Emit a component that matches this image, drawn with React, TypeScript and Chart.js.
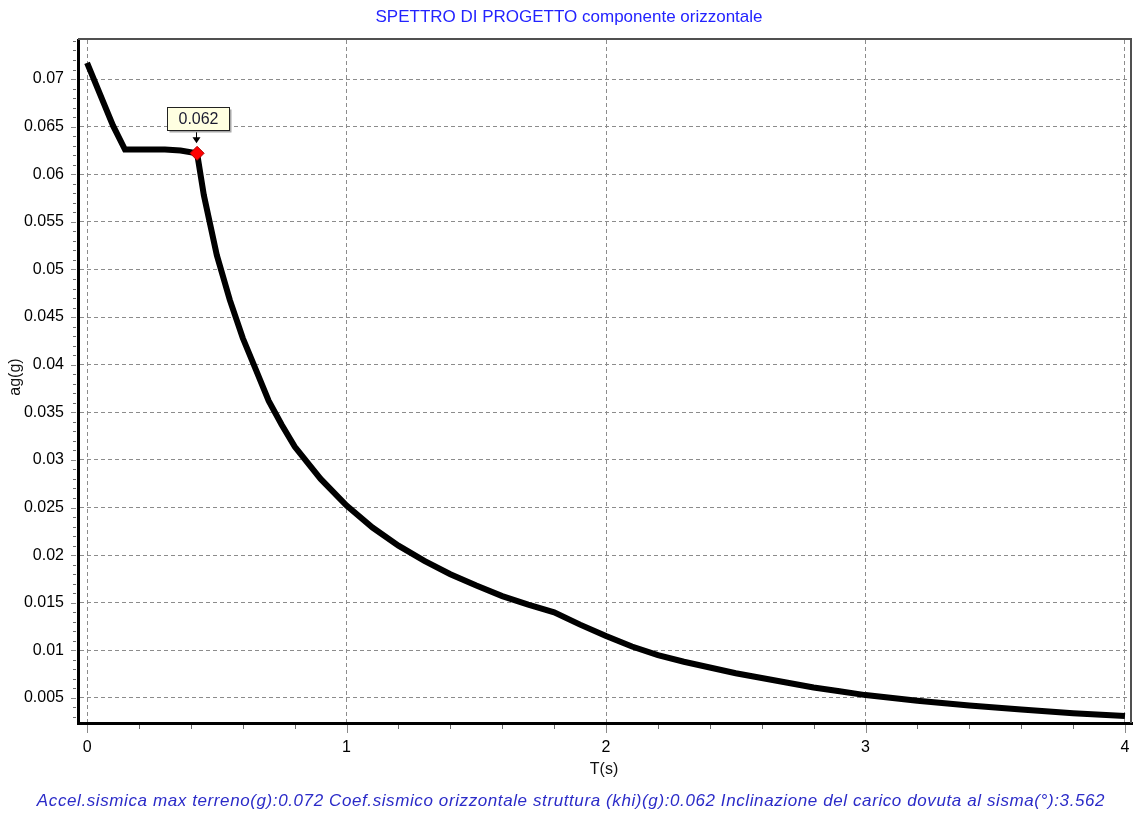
import React, { useEffect, useRef } from "react";
import { Chart, registerables } from "chart.js";

Chart.register(...registerables);

const TITLE = "SPETTRO DI PROGETTO componente orizzontale";
const FOOTER =
  "Accel.sismica max terreno(g):0.072 Coef.sismico orizzontale struttura (khi)(g):0.062 Inclinazione del carico dovuta al sisma(°):3.562";
const X_TITLE = "T(s)";
const Y_TITLE = "ag(g)";

const periods = [
  0, 0.1, 0.146, 0.2, 0.3, 0.36, 0.424, 0.45, 0.5, 0.55, 0.6, 0.65, 0.7, 0.75,
  0.8, 0.9, 1.0, 1.1, 1.2, 1.3, 1.4, 1.5, 1.6, 1.7, 1.8, 1.9, 2.0, 2.1, 2.2,
  2.3, 2.4, 2.5, 2.6, 2.7, 2.8, 2.9, 3.0, 3.2, 3.4, 3.6, 3.8, 4.0,
];
const accel = [
  0.0717, 0.0651, 0.0626, 0.0626, 0.0626, 0.0625, 0.0622, 0.0578, 0.0515,
  0.0468, 0.0428, 0.0395, 0.0362, 0.0337, 0.0314, 0.028, 0.0252, 0.0229,
  0.021, 0.0194, 0.018, 0.0168, 0.0157, 0.0148, 0.014, 0.0127, 0.0115, 0.0104,
  0.0095, 0.0088, 0.0082, 0.0076, 0.0071, 0.0066, 0.0061, 0.0057, 0.0053,
  0.0047, 0.0042, 0.0038, 0.0034, 0.0031,
];

const markerT = [0.424];
const markerV = [0.0622];
const MARKER_LABEL = "0.062";

const X_MIN = -0.035;
const X_MAX = 4.027;
const X_STEP = 0.2;
const Y_MIN = 0.00237;
const Y_MAX = 0.0741;
const Y_STEP = 0.001;
const Y_MAJOR = 0.005;

const FONT = '"Liberation Sans", Arial, sans-serif';

const isMult = (v: number, m: number) =>
  Math.abs(v / m - Math.round(v / m)) < 1e-6;

const decorPlugin = {
  id: "decor",
  afterDraw(chart: any) {
    const { ctx, chartArea } = chart;
    const { left, right, top, bottom } = chartArea;
    const xs = chart.scales.x;
    const ys = chart.scales.y;
    ctx.save();

    // frame top/right
    ctx.strokeStyle = "#505050";
    ctx.lineWidth = 2;
    ctx.beginPath();
    ctx.moveTo(left, top - 1);
    ctx.lineTo(right, top - 1);
    ctx.moveTo(right - 1, top - 1);
    ctx.lineTo(right - 1, bottom);
    ctx.stroke();

    // x ticks
    ctx.lineWidth = 1;
    for (const t of xs.ticks) {
      const px = Math.round(xs.getPixelForValue(t.value)) + 0.5;
      const major = isMult(t.value, 1);
      ctx.strokeStyle = major ? "#8a8a8a" : "#6a6a6a";
      ctx.beginPath();
      ctx.moveTo(px, bottom + 2);
      ctx.lineTo(px, bottom + (major ? 10 : 6));
      ctx.stroke();
    }
    // y ticks
    for (const t of ys.ticks) {
      const py = Math.round(ys.getPixelForValue(t.value)) + 0.5;
      const major = isMult(t.value, Y_MAJOR);
      ctx.strokeStyle = major ? "#8a8a8a" : "#6a6a6a";
      ctx.beginPath();
      ctx.moveTo(left - 2, py);
      ctx.lineTo(left - (major ? 7 : 5), py);
      ctx.stroke();
    }

    // title
    ctx.fillStyle = "#2323ff";
    ctx.font = `17px ${FONT}`;
    ctx.textAlign = "center";
    ctx.textBaseline = "middle";
    ctx.fillText(TITLE, 569, 17);

    // footer
    ctx.fillStyle = "#2b2bc8";
    ctx.font = `italic 17px ${FONT}`;
    try {
      (ctx as any).letterSpacing = "0.6px";
    } catch (e) {}
    ctx.fillText(FOOTER, 571, 801);
    try {
      (ctx as any).letterSpacing = "0px";
    } catch (e) {}

    // axis titles
    ctx.fillStyle = "#111";
    ctx.font = `16px ${FONT}`;
    ctx.fillText(X_TITLE, 604, 770);
    ctx.save();
    ctx.translate(16, 377);
    ctx.rotate(-Math.PI / 2);
    ctx.fillText(Y_TITLE, 0, 0);
    ctx.restore();

    // annotation callout
    const mx = xs.getPixelForValue(markerT[0]);
    const my = ys.getPixelForValue(markerV[0]);
    const bw = 62;
    const bh = 23;
    const bx = Math.round(mx - 30) + 0.5;
    const by = Math.round(my - 46) + 0.5;
    ctx.fillStyle = "#a8a8a8";
    ctx.fillRect(bx + 2, by + 2, bw, bh);
    ctx.fillStyle = "#ffffe1";
    ctx.fillRect(bx, by, bw, bh);
    ctx.strokeStyle = "#222";
    ctx.lineWidth = 1;
    ctx.strokeRect(bx, by, bw, bh);
    ctx.fillStyle = "#1a1a30";
    ctx.font = `16px ${FONT}`;
    ctx.textAlign = "center";
    ctx.textBaseline = "middle";
    ctx.fillText(MARKER_LABEL, bx + bw / 2, by + bh / 2 + 1);
    // arrow
    const ax = Math.round(mx - 1) + 0.5;
    ctx.strokeStyle = "#000";
    ctx.beginPath();
    ctx.moveTo(ax, my - 21);
    ctx.lineTo(ax, my - 15);
    ctx.stroke();
    ctx.fillStyle = "#000";
    ctx.beginPath();
    ctx.moveTo(ax - 4, my - 16);
    ctx.lineTo(ax + 4, my - 16);
    ctx.lineTo(ax, my - 10);
    ctx.closePath();
    ctx.fill();

    ctx.restore();
  },
};

export default function App() {
  const canvasRef = useRef<HTMLCanvasElement | null>(null);

  useEffect(() => {
    const canvas = canvasRef.current;
    if (!canvas) return;
    const chart = new Chart(canvas, {
      type: "line",
      data: {
        datasets: [
          {
            data: markerT.map((t, i) => ({ x: t, y: markerV[i] })),
            showLine: false,
            pointStyle: "rectRot",
            pointRadius: 7,
            pointBackgroundColor: "#ff0000",
            pointBorderColor: "#b00000",
            pointBorderWidth: 1,
            order: 0,
          },
          {
            data: periods.map((t, i) => ({ x: t, y: accel[i] })),
            borderColor: "#000000",
            borderWidth: 6,
            pointRadius: 0,
            tension: 0,
            fill: false,
            order: 1,
          },
        ],
      },
      options: {
        animation: false,
        responsive: false,
        devicePixelRatio: 1,
        layout: {
          autoPadding: false,
          padding: { top: 40, right: 1, left: 0, bottom: 0 },
        },
        plugins: {
          legend: { display: false },
          tooltip: { enabled: false },
          title: { display: false },
        },
        scales: {
          x: {
            type: "linear",
            min: X_MIN,
            max: X_MAX,
            afterFit: (s: any) => {
              s.height = 90;
              s.paddingLeft = 0;
              s.paddingRight = 0;
            },
            ticks: {
              stepSize: X_STEP,
              includeBounds: false,
              autoSkip: false,
              maxRotation: 0,
              padding: 15,
              color: "#000",
              font: { family: FONT, size: 16 },
              callback: (v: any) =>
                isMult(Number(v), 1) ? String(Math.round(Number(v))) : "",
            },
            grid: {
              drawTicks: false,
              lineWidth: 1,
              color: (c: any) =>
                c.tick && isMult(c.tick.value, 1) ? "#8c8c8c" : "rgba(0,0,0,0)",
            },
            border: { display: true, color: "#000", width: 3, dash: [4, 3] },
          },
          y: {
            type: "linear",
            min: Y_MIN,
            max: Y_MAX,
            afterFit: (s: any) => {
              s.width = 78;
              s.paddingTop = 0;
              s.paddingBottom = 0;
            },
            ticks: {
              stepSize: Y_STEP,
              includeBounds: false,
              autoSkip: false,
              padding: 14,
              color: "#000",
              font: { family: FONT, size: 16 },
              callback: (v: any) =>
                isMult(Number(v), Y_MAJOR)
                  ? String(Math.round(Number(v) * 1000) / 1000)
                  : "",
            },
            grid: {
              drawTicks: false,
              lineWidth: 1,
              color: (c: any) =>
                c.tick && isMult(c.tick.value, Y_MAJOR)
                  ? "#8c8c8c"
                  : "rgba(0,0,0,0)",
            },
            border: { display: true, color: "#000", width: 3, dash: [4, 3] },
          },
        },
      },
      plugins: [decorPlugin],
    });
    return () => chart.destroy();
  }, []);

  return (
    <div
      style={{
        position: "absolute",
        left: 0,
        top: 0,
        width: 1133,
        height: 813,
        background: "#fff",
      }}
    >
      <canvas
        ref={canvasRef}
        width={1133}
        height={813}
        style={{ display: "block", width: 1133, height: 813 }}
      />
    </div>
  );
}
